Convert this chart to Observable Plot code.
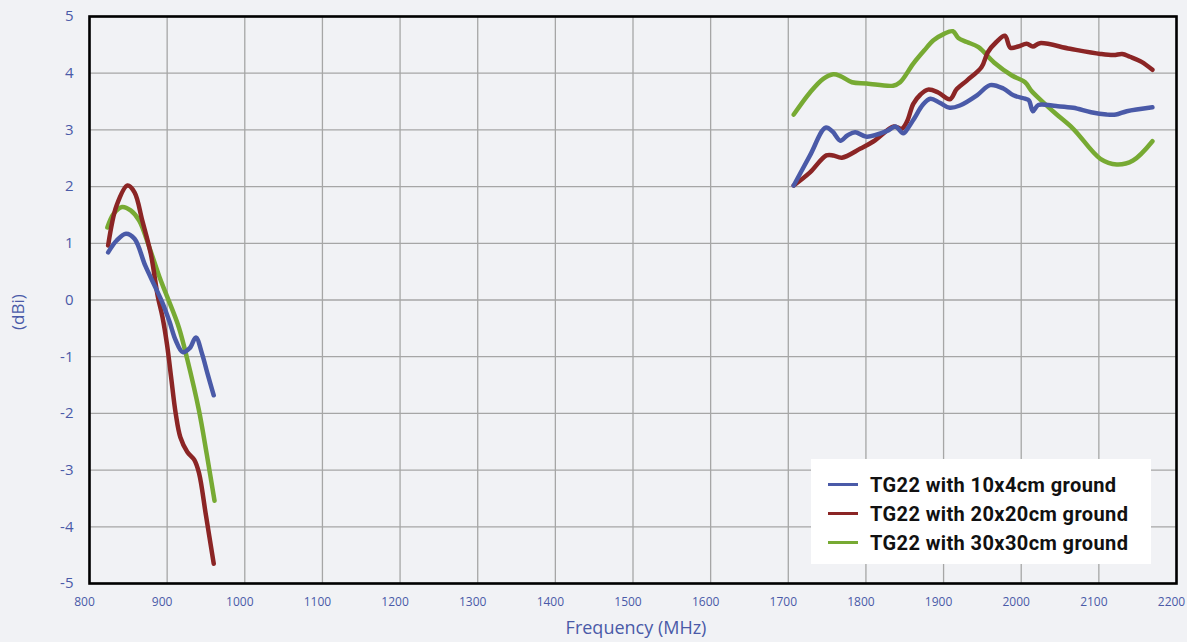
<!DOCTYPE html>
<html>
<head>
<meta charset="utf-8">
<script src="https://cdn.jsdelivr.net/npm/d3@7"></script>
<script src="https://cdn.jsdelivr.net/npm/@observablehq/plot@0.6"></script>
<style>
  html, body { margin: 0; padding: 0; background: #f1f2f5; }
  #wrap { position: relative; width: 1187px; height: 642px; overflow: hidden; }
  #legend { position: absolute; left: 811px; top: 459px; width: 340px; height: 105px; background: #ffffff;
    box-sizing: border-box; padding-top: 11px; }
  .row { display: flex; align-items: center; height: 29px; }
  .swatch { width: 30px; height: 2.2px; margin-left: 17px; margin-right: 12px; }
  .lab { font-family: Roboto, "DejaVu Sans", sans-serif; font-weight: 700; font-size: 20px; color: #111; letter-spacing: 0.4px; }
</style>
</head>
<body>
<div id="wrap"><div id="chart"></div><div id="legend"></div></div>
<script>
// ---- data ----
const seriesNames = ["TG22 with 10x4cm ground", "TG22 with 20x20cm ground", "TG22 with 30x30cm ground"];
const seriesColors = ["#4a5aa8", "#8b2525", "#77aa33"];
const xTicks = [800, 900, 1000, 1100, 1200, 1300, 1400, 1500, 1600, 1700, 1800, 1900, 2000, 2100, 2200];
const yTicks = [-5, -4, -3, -2, -1, 0, 1, 2, 3, 4, 5];

// 10x4cm ground (blue)
const blueLowFreq = [824, 835, 847, 858, 872, 885, 894, 903, 911, 920, 929, 937, 945, 952, 960];
const blueLowGain = [0.84, 1.05, 1.17, 1.08, 0.6, 0.22, -0.05, -0.38, -0.71, -0.92, -0.85, -0.66, -0.95, -1.3, -1.68];
const blueHighFreq = [1707, 1728, 1748, 1757, 1767, 1776, 1786, 1801, 1827, 1838, 1848, 1855, 1863, 1873, 1883, 1895, 1908, 1921, 1943, 1960, 1977, 1990, 2005, 2010, 2015, 2022, 2045, 2067, 2090, 2110, 2122, 2136, 2169];
const blueHighGain = [2.02, 2.55, 3.04, 2.97, 2.81, 2.9, 2.96, 2.88, 2.98, 3.06, 2.94, 3.05, 3.22, 3.44, 3.55, 3.48, 3.39, 3.43, 3.61, 3.79, 3.73, 3.61, 3.55, 3.52, 3.33, 3.44, 3.42, 3.39, 3.31, 3.27, 3.27, 3.33, 3.4];

// 20x20cm ground (red)
const redLowFreq = [824, 835, 849, 858, 868, 879, 888, 894, 900, 905, 911, 917, 926, 935, 941, 950, 960];
const redLowGain = [0.96, 1.67, 2.02, 1.9, 1.4, 0.81, 0.06, -0.3, -0.8, -1.35, -2.0, -2.42, -2.68, -2.82, -3.05, -3.8, -4.65];
const redHighFreq = [1707, 1728, 1749, 1758, 1769, 1793, 1810, 1836, 1846, 1853, 1861, 1870, 1880, 1893, 1908, 1917, 1930, 1949, 1957, 1968, 1979, 1986, 1996, 2007, 2015, 2024, 2063, 2102, 2119, 2130, 2140, 2155, 2169];
const redHighGain = [2.02, 2.25, 2.55, 2.55, 2.51, 2.67, 2.8, 3.06, 3.02, 3.15, 3.46, 3.62, 3.71, 3.66, 3.54, 3.72, 3.87, 4.11, 4.37, 4.55, 4.66, 4.45, 4.47, 4.52, 4.47, 4.53, 4.43, 4.34, 4.32, 4.34, 4.29, 4.2, 4.06];

// 30x30cm ground (green)
const greenLowFreq = [823, 831, 842, 853, 864, 877, 890, 900, 915, 926, 941, 951, 961];
const greenLowGain = [1.28, 1.52, 1.64, 1.58, 1.4, 0.93, 0.41, 0.06, -0.48, -1.05, -1.95, -2.72, -3.54];
const greenHighFreq = [1707, 1728, 1745, 1758, 1767, 1782, 1801, 1835, 1844, 1861, 1875, 1887, 1900, 1912, 1919, 1930, 1945, 1965, 1988, 2005, 2013, 2028, 2045, 2067, 2102, 2123, 2144, 2169];
const greenHighGain = [3.27, 3.66, 3.9, 3.98, 3.95, 3.84, 3.82, 3.78, 3.84, 4.17, 4.4, 4.58, 4.69, 4.74, 4.62, 4.55, 4.46, 4.19, 3.96, 3.84, 3.69, 3.49, 3.28, 3.02, 2.49, 2.39, 2.46, 2.8];

// ---- build table ----
const bands = [
  [blueLowFreq, blueLowGain, blueHighFreq, blueHighGain],
  [redLowFreq, redLowGain, redHighFreq, redHighGain],
  [greenLowFreq, greenLowGain, greenHighFreq, greenHighGain]
];
const rows = [];
bands.forEach((b, i) => {
  b[0].forEach((f, j) => rows.push({series: seriesNames[i], seg: seriesNames[i] + "-low", freq: f, gain: b[1][j]}));
  b[2].forEach((f, j) => rows.push({series: seriesNames[i], seg: seriesNames[i] + "-high", freq: f, gain: b[3][j]}));
});
// draw order: green, red, blue on top
const drawOrder = [seriesNames[2], seriesNames[1], seriesNames[0]];
const ordered = drawOrder.flatMap(s => rows.filter(r => r.series === s));

const labelColor = "#4a5aa8";
const chart = Plot.plot({
  width: 1187,
  height: 642,
  marginLeft: 89,
  marginRight: 11,
  marginTop: 16,
  marginBottom: 59,
  style: { background: "#f1f2f5", fontFamily: "'Open Sans', 'Noto Sans', sans-serif" },
  x: { domain: [800, 2200] },
  y: { domain: [-5, 5] },
  color: { domain: seriesNames, range: seriesColors },
  marks: [
    Plot.gridX(xTicks, { stroke: "#a6a6a6", strokeOpacity: 1, strokeWidth: 1.3 }),
    Plot.gridY(yTicks, { stroke: "#a6a6a6", strokeOpacity: 1, strokeWidth: 1.3 }),
    Plot.axisX(xTicks, { tickSize: 0, tickPadding: 14, dx: -5, fontSize: 12, fill: labelColor, label: null, tickFormat: d => String(d) }),
    Plot.axisY(yTicks, { tickSize: 0, tickPadding: 16, fontSize: 15, fill: labelColor, label: null, tickFormat: d => String(d) }),
    Plot.lineY(ordered, { x: "freq", y: "gain", z: "seg", stroke: "series", strokeWidth: 4.5, curve: "catmull-rom", strokeLinecap: "round", strokeLinejoin: "round" }),
    Plot.frame({ stroke: "#000", strokeWidth: 2.6 }),
    Plot.text(["Frequency (MHz)"], { frameAnchor: "bottom", dx: 3, dy: 50, lineAnchor: "bottom", fontSize: 18, fill: labelColor }),
    Plot.text(["(dBi)"], { frameAnchor: "left", rotate: -90, dx: -71, dy: 30, fontSize: 17, fill: labelColor })
  ]
});
document.getElementById("chart").appendChild(chart);

// legend
const legend = document.getElementById("legend");
seriesNames.forEach((name, i) => {
  const row = document.createElement("div");
  row.className = "row";
  const sw = document.createElement("div");
  sw.className = "swatch";
  sw.style.background = seriesColors[i];
  const lab = document.createElement("span");
  lab.className = "lab";
  lab.textContent = name;
  row.appendChild(sw);
  row.appendChild(lab);
  legend.appendChild(row);
});
</script>
</body>
</html>
